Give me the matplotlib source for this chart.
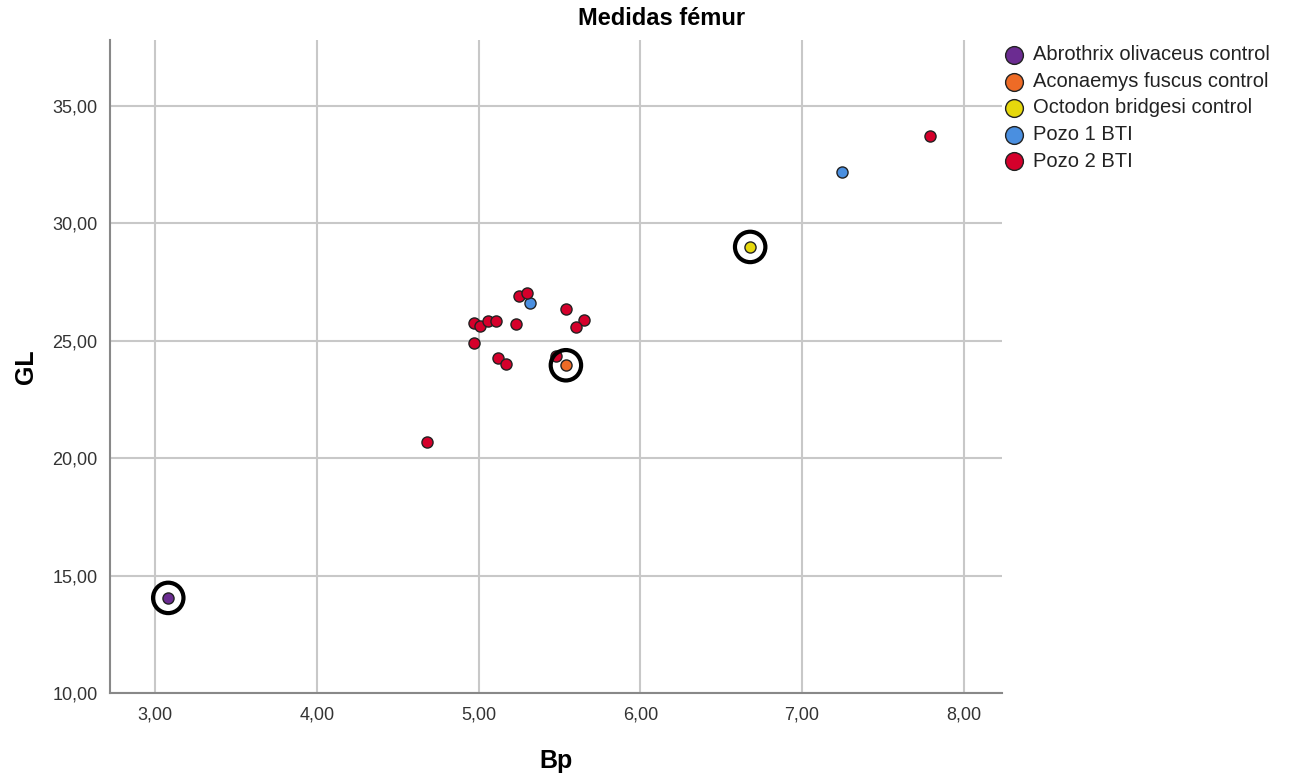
import matplotlib
matplotlib.use("Agg")
import matplotlib.pyplot as plt
from matplotlib.ticker import FuncFormatter

plt.rcParams['font.family'] = ['Liberation Sans', 'DejaVu Sans']

groups = ["Abrothrix olivaceus control", "Aconaemys fuscus control",
          "Octodon bridgesi control", "Pozo 1 BTI", "Pozo 2 BTI"]
colors = ["#6b2c91", "#ee6b26", "#e6d80c", "#4a8fe0", "#d5002b"]

bp = [
    [3.08],
    [5.54],
    [6.68],
    [7.25, 5.32],
    [7.79, 4.68, 5.25, 5.30, 5.54, 5.65, 5.60, 4.97, 5.01, 5.06, 5.11,
     5.23, 4.97, 5.12, 5.17, 5.48],
]
gl = [
    [14.05],
    [23.96],
    [29.00],
    [32.19, 26.61],
    [33.72, 20.69, 26.92, 27.04, 26.37, 25.89, 25.60, 25.77, 25.64, 25.86,
     25.84, 25.70, 24.89, 24.25, 24.01, 24.35],
]
# controls that get a black ring
ringed = [0, 1, 2]

fig = plt.figure(figsize=(12.95, 7.76), dpi=100)
ax = fig.add_axes([0.085, 0.107, 0.689, 0.841])

ax.grid(True, color="#c8c8c8", linewidth=1.5, zorder=0)
ax.set_axisbelow(True)

handles = []
for i in range(len(groups)):
    h = ax.scatter(bp[i], gl[i], s=64, color=colors[i], edgecolors="#222222",
                   linewidths=1.0, zorder=3, label=groups[i])
    handles.append(h)

for i in ringed:
    ax.scatter(bp[i], gl[i], s=480, facecolors="none", edgecolors="black",
               linewidths=3, zorder=4)

ax.set_xlim(2.72, 8.24)
ax.set_ylim(10, 37.8)
ax.set_xticks([3, 4, 5, 6, 7, 8])
ax.set_yticks([10, 15, 20, 25, 30, 35])
fmt = FuncFormatter(lambda v, p: f"{v:.2f}".replace(".", ","))
ax.xaxis.set_major_formatter(fmt)
ax.yaxis.set_major_formatter(fmt)
ax.tick_params(length=0, labelsize=13, colors="#333333")
ax.tick_params(axis="x", pad=10)
ax.tick_params(axis="y", pad=9)

for s in ["top", "right"]:
    ax.spines[s].set_visible(False)
for s in ["left", "bottom"]:
    ax.spines[s].set_color("#888888")
    ax.spines[s].set_linewidth(1.5)

fig.text(0.511, 0.976, "Medidas fémur", fontsize=17, fontweight="bold",
         ha="center", va="center")
ax.set_xlabel("Bp", fontsize=18, fontweight="bold", labelpad=18)
ax.set_ylabel("GL", fontsize=18, fontweight="bold", labelpad=10)

leg = ax.legend(handles=handles, loc="upper left", bbox_to_anchor=(0.982, 1.005),
                frameon=False, fontsize=14.5, handletextpad=-0.1,
                labelspacing=0.38, markerscale=1.6, borderaxespad=0)
for t in leg.get_texts():
    t.set_color("#222222")

fig.savefig("out.png", dpi=100)
